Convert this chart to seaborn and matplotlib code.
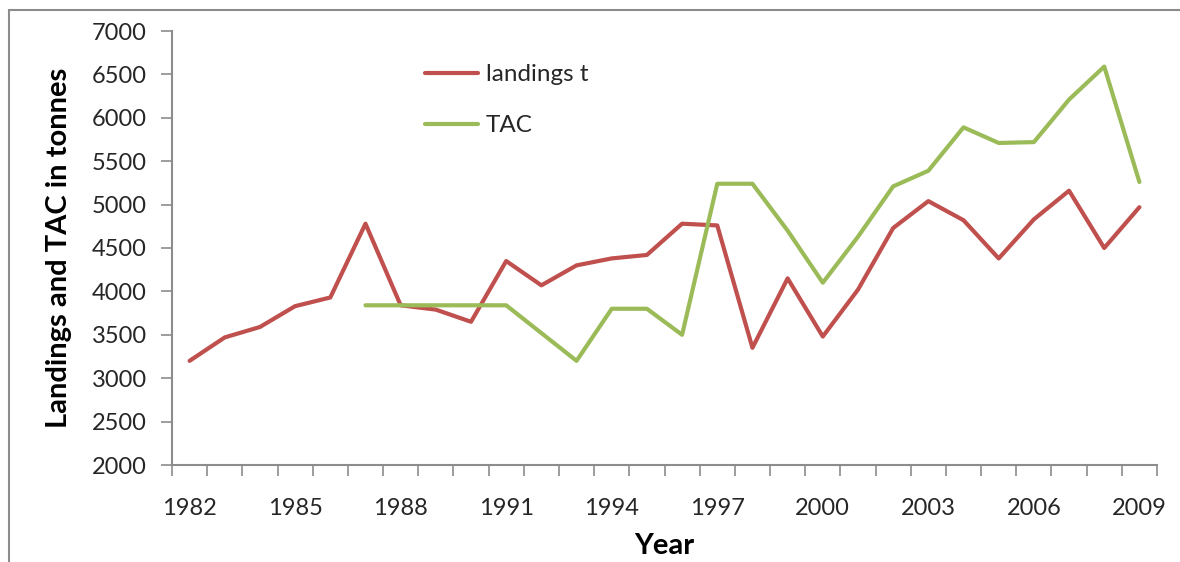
import matplotlib
matplotlib.use("Agg")
import matplotlib.pyplot as plt
from matplotlib.patches import Rectangle
from matplotlib.ticker import MultipleLocator
import numpy as np
import pandas as pd
import seaborn as sns

years = list(range(1982, 2010))
landings = [3200, 3470, 3590, 3830, 3930, 4780, 3840, 3790, 3650, 4350,
            4070, 4300, 4380, 4420, 4780, 4760, 3350, 4150, 3480, 4020,
            4730, 5040, 4820, 4380, 4830, 5160, 4500, 4970]
tac_years = list(range(1987, 2010))
tac = [3840, 3840, 3840, 3840, 3840, 3520, 3200, 3800, 3800, 3500,
       5240, 5240, 4700, 4100, 4630, 5210, 5390, 5890, 5710, 5720,
       6210, 6590, 5260]
series_names = ["landings t", "TAC"]
colors = ["#C0504D", "#9BBB59"]

df = pd.concat([
    pd.DataFrame({"Year": years, "Value": landings, "Series": series_names[0]}),
    pd.DataFrame({"Year": tac_years, "Value": tac, "Series": series_names[1]}),
])

sns.set_theme(style="white")
plt.rcParams["font.family"] = ["Lato", "DejaVu Sans"]

fig = plt.figure(figsize=(11.8, 5.62), dpi=100)
ax = fig.add_axes([172 / 1180, 1 - 465 / 562, (1157 - 172) / 1180, (465 - 31) / 562])

sns.lineplot(data=df, x="Year", y="Value", hue="Series", palette=colors,
             hue_order=series_names, linewidth=3.0, ax=ax, legend=True)

axis_grey = "#8C8C8C"
text_col = "#262626"
ax.set_xlim(1981.5, 2009.5)
ax.set_ylim(2000, 7000)
ax.set_yticks(np.arange(2000, 7001, 500))
ax.set_xticks(list(range(1982, 2010, 3)))
ax.xaxis.set_minor_locator(MultipleLocator(1, offset=0.5))
ax.tick_params(axis="x", which="major", length=0, pad=24, labelsize=17, labelcolor=text_col)
ax.tick_params(axis="x", which="minor", length=8, width=1.2, color=axis_grey, direction="out")
ax.tick_params(axis="y", which="major", length=8, width=1.2, color=axis_grey,
               direction="out", pad=10, labelsize=17, labelcolor=text_col, left=True)
ax.tick_params(axis="x", which="both", bottom=True)

for side in ["top", "right"]:
    ax.spines[side].set_visible(False)
for side in ["left", "bottom"]:
    ax.spines[side].set_color(axis_grey)
    ax.spines[side].set_linewidth(1.5)

ax.set_xlabel("Year", fontsize=21, fontweight="bold", color="black", labelpad=10)
ax.set_ylabel("Landings and TAC in tonnes", fontsize=21, fontweight="bold", color="black", labelpad=14)

leg = ax.legend(loc="upper left", bbox_to_anchor=(425 / 1180, 1 - 64 / 562),
                bbox_transform=fig.transFigure, frameon=False, fontsize=17.5,
                handlelength=2.2, handletextpad=0.3, labelspacing=1.25,
                borderpad=0, borderaxespad=0)
for t in leg.get_texts():
    t.set_color(text_col)
for h in leg.get_lines():
    h.set_linewidth(3.0)

# outer chart border
fig.patches.append(Rectangle((9 / 1180, -0.1), 1.2, 1 - 10 / 562 + 0.1,
                             transform=fig.transFigure, fill=False,
                             edgecolor="#8C8C8C", linewidth=1.5))

fig.savefig("out.png", dpi=100)
